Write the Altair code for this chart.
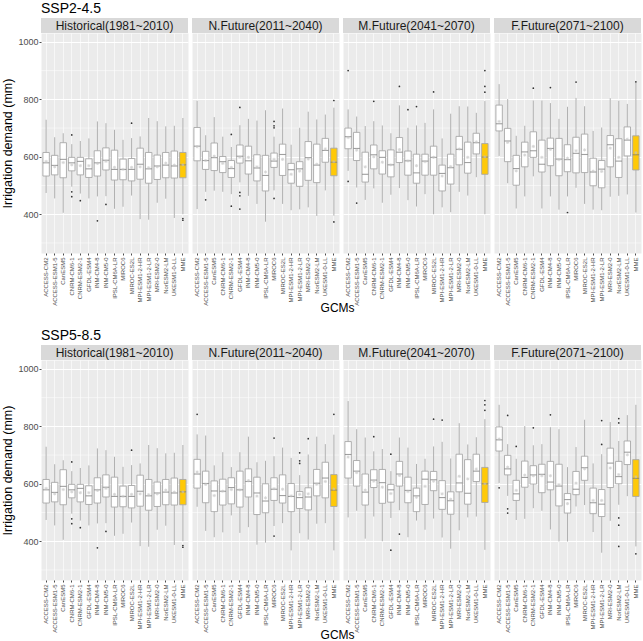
import altair as alt
import pandas as pd

FONT = "Liberation Sans"
GCMS = ["ACCESS-CM2", "ACCESS-ESM1-5", "CanESM5", "CNRM-CM6-1", "CNRM-ESM2-1",
        "GFDL-ESM4", "INM-CM4-8", "INM-CM5-0", "IPSL-CM6A-LR", "MIROC6",
        "MIROC-ES2L", "MPI-ESM1-2-HR", "MPI-ESM1-2-LR", "MRI-ESM2-0",
        "NorESM2-LM", "UKESM1-0-LL", "MME"]
PERIODS = ["Historical(1981~2010)", "N.Future(2011~2040)",
           "M.Future(2041~2070)", "F.Future(2071~2100)"]
SCENARIOS = ["SSP2-4.5", "SSP5-8.5"]
Y_TICKS = [400, 600, 800, 1000]
Y_MINOR = [300, 500, 700, 900]

# ---- Historical (same in both scenarios)
HIST_HI = [729, 668, 682, 644, 655, 664, 723, 717, 694, 659, 665, 671, 735, 724, 706, 708, 735]
HIST_Q3 = [615, 605, 649, 598, 598, 593, 621, 631, 623, 592, 594, 630, 615, 606, 615, 620, 615]
HIST_MED = [579, 570, 591, 579, 584, 558, 579, 588, 556, 556, 556, 574, 558, 568, 571, 568, 572]
HIST_Q1 = [533, 537, 527, 551, 537, 528, 533, 554, 519, 520, 516, 522, 508, 521, 527, 526, 527]
HIST_LO = [474, 455, 405, 496, 472, 455, 462, 463, 419, 426, 465, 383, 381, 440, 454, 387, 400]
HIST_MEAN = [584, 565, 580, 572, 569, 569, 577, 584, 563, 556, 563, 565, 562, 565, 578, 571, 572]
HIST_OUT = {3: [676, 478, 461], 4: [447], 6: [377], 7: [434], 10: [717], 16: [385, 379]}

# ---- SSP2-4.5 near future
S245_NF_HI = [795, 675, 738, 670, 634, 710, 732, 726, 762, 670, 768, 642, 701, 757, 730, 747, 771]
S245_NF_Q3 = [702, 619, 648, 601, 587, 641, 637, 607, 605, 613, 644, 577, 583, 653, 644, 664, 630]
S245_NF_MED = [637, 587, 597, 583, 559, 602, 586, 561, 535, 585, 608, 555, 558, 597, 571, 622, 581]
S245_NF_Q1 = [586, 556, 552, 545, 528, 578, 540, 516, 481, 563, 535, 508, 497, 518, 510, 581, 534]
S245_NF_LO = [418, 478, 482, 478, 470, 511, 464, 436, 374, 483, 436, 414, 417, 424, 394, 483, 395]
S245_NF_MEAN = [635, 587, 602, 577, 563, 598, 598, 565, 547, 591, 591, 539, 550, 592, 574, 627, 583]
S245_NF_OUT = {1: [450], 4: [678, 428], 5: [772, 476, 464, 418], 9: [723, 708, 701, 455], 16: [796, 373]}

# ---- SSP2-4.5 mid future
S245_MF_HI = [765, 740, 707, 724, 709, 682, 779, 701, 709, 718, 765, 664, 750, 776, 775, 753, 794]
S245_MF_Q3 = [700, 685, 616, 641, 621, 624, 667, 620, 609, 609, 637, 571, 609, 671, 651, 682, 646]
S245_MF_MED = [670, 629, 539, 607, 598, 572, 616, 586, 544, 585, 598, 542, 562, 626, 580, 649, 599]
S245_MF_Q1 = [628, 587, 512, 558, 540, 530, 580, 536, 508, 536, 536, 481, 505, 572, 543, 610, 539]
S245_MF_LO = [551, 493, 450, 490, 440, 468, 491, 449, 427, 470, 400, 424, 407, 478, 465, 529, 400]
S245_MF_MEAN = [667, 623, 565, 600, 581, 572, 625, 586, 569, 583, 598, 533, 566, 627, 598, 652, 600]
S245_MF_OUT = {0: [900, 514], 1: [439], 3: [793], 6: [845], 7: [764], 8: [775], 10: [826], 16: [900, 845, 825]}

# ---- SSP2-4.5 far future
S245_FF_HI = [853, 801, 673, 708, 796, 796, 787, 732, 774, 805, 776, 690, 702, 804, 795, 784, 859]
S245_FF_Q3 = [780, 699, 605, 651, 687, 658, 665, 664, 642, 668, 679, 595, 587, 674, 663, 704, 673]
S245_FF_MED = [715, 655, 559, 617, 621, 574, 629, 592, 590, 612, 608, 547, 557, 642, 585, 658, 607]
S245_FF_Q1 = [690, 583, 501, 565, 598, 547, 569, 534, 548, 544, 545, 499, 492, 565, 528, 603, 554]
S245_FF_LO = [603, 508, 420, 462, 532, 420, 462, 416, 462, 492, 436, 416, 414, 461, 464, 469, 406]
S245_FF_MEAN = [723, 650, 551, 606, 636, 598, 626, 590, 595, 621, 624, 550, 549, 630, 598, 661, 614]
S245_FF_OUT = {4: [839], 6: [841], 8: [406], 9: [860], 16: [861]}

# ---- SSP5-8.5 near future
S585_NF_HI = [772, 768, 664, 710, 658, 710, 764, 675, 680, 696, 726, 690, 630, 702, 764, 738, 771]
S585_NF_Q3 = [685, 644, 610, 616, 621, 644, 652, 623, 600, 621, 631, 601, 573, 586, 650, 675, 632]
S585_NF_MED = [634, 601, 575, 574, 587, 579, 608, 568, 540, 581, 559, 556, 552, 554, 602, 620, 578]
S585_NF_Q1 = [585, 534, 503, 526, 530, 519, 554, 493, 499, 542, 533, 503, 514, 509, 558, 551, 521]
S585_NF_LO = [520, 436, 414, 431, 490, 429, 449, 388, 395, 453, 463, 368, 428, 406, 461, 463, 368]
S585_NF_MEAN = [641, 598, 559, 574, 580, 579, 611, 557, 551, 583, 581, 558, 563, 565, 598, 608, 582]
S585_NF_OUT = {0: [842], 9: [759, 418], 12: [708, 680, 671], 13: [757], 16: [842]}

# ---- SSP5-8.5 mid future
S585_MF_HI = [888, 790, 761, 713, 721, 644, 761, 726, 669, 687, 730, 746, 688, 811, 737, 762, 825]
S585_MF_Q3 = [747, 681, 634, 649, 650, 598, 678, 623, 585, 644, 643, 611, 572, 703, 684, 703, 657]
S585_MF_MED = [702, 644, 571, 613, 604, 579, 634, 577, 558, 616, 614, 552, 541, 603, 567, 644, 600]
S585_MF_Q1 = [620, 592, 526, 587, 532, 536, 592, 534, 503, 528, 576, 511, 494, 572, 529, 608, 535]
S585_MF_LO = [483, 506, 409, 486, 400, 481, 508, 414, 472, 440, 479, 413, 374, 438, 483, 486, 370]
S585_MF_MEAN = [693, 639, 578, 609, 588, 566, 629, 573, 553, 591, 609, 565, 546, 626, 617, 651, 600]
S585_MF_OUT = {3: [764], 5: [703, 369], 6: [425], 10: [825], 11: [822], 16: [890, 875, 856]}

# ---- SSP5-8.5 far future
S585_FF_HI = [875, 738, 687, 801, 734, 738, 797, 790, 658, 728, 823, 671, 703, 815, 749, 839, 875]
S585_FF_Q3 = [798, 699, 612, 679, 663, 668, 678, 668, 566, 643, 696, 585, 580, 724, 678, 749, 684]
S585_FF_MED = [753, 652, 565, 622, 631, 633, 606, 592, 545, 581, 656, 534, 529, 672, 625, 710, 619]
S585_FF_Q1 = [714, 631, 542, 588, 599, 569, 579, 523, 498, 562, 612, 496, 486, 587, 600, 667, 556]
S585_FF_LO = [603, 558, 474, 478, 515, 506, 441, 399, 399, 521, 526, 432, 360, 471, 527, 557, 382]
S585_FF_MEAN = [756, 658, 577, 630, 628, 628, 628, 597, 531, 602, 652, 542, 542, 655, 632, 701, 624]
S585_FF_OUT = {0: [586], 1: [838, 513, 498], 2: [730], 4: [795], 6: [840], 12: [820, 737],
               14: [827, 812, 481, 456, 382], 16: [356]}

HIST = (HIST_HI, HIST_Q3, HIST_MED, HIST_Q1, HIST_LO, HIST_MEAN, HIST_OUT)
DATA = {
    "SSP2-4.5": [HIST,
                 (S245_NF_HI, S245_NF_Q3, S245_NF_MED, S245_NF_Q1, S245_NF_LO, S245_NF_MEAN, S245_NF_OUT),
                 (S245_MF_HI, S245_MF_Q3, S245_MF_MED, S245_MF_Q1, S245_MF_LO, S245_MF_MEAN, S245_MF_OUT),
                 (S245_FF_HI, S245_FF_Q3, S245_FF_MED, S245_FF_Q1, S245_FF_LO, S245_FF_MEAN, S245_FF_OUT)],
    "SSP5-8.5": [HIST,
                 (S585_NF_HI, S585_NF_Q3, S585_NF_MED, S585_NF_Q1, S585_NF_LO, S585_NF_MEAN, S585_NF_OUT),
                 (S585_MF_HI, S585_MF_Q3, S585_MF_MED, S585_MF_Q1, S585_MF_LO, S585_MF_MEAN, S585_MF_OUT),
                 (S585_FF_HI, S585_FF_Q3, S585_FF_MED, S585_FF_Q1, S585_FF_LO, S585_FF_MEAN, S585_FF_OUT)],
}

W, H = 147, 220
YDOM = [265, 1031]
BOX_STROKE = "#a8a8a8"
ASTERISK = "M-1,0L1,0M0,-1L0,1M-0.7,-0.7L0.7,0.7M-0.7,0.7L0.7,-0.7"


def panel(scen, pidx):
    hi, q3, med, q1, lo, mean, outs = DATA[scen][pidx]
    first = pidx == 0
    df = pd.DataFrame({"gcm": GCMS, "hi": hi, "q3": q3, "med": med, "q1": q1,
                       "lo": lo, "mean": mean,
                       "kind": ["mme" if g == "MME" else "gcm" for g in GCMS]})
    odf = pd.DataFrame([{"gcm": GCMS[i], "v": v} for i, vs in outs.items() for v in vs])

    xscale = alt.Scale(domain=GCMS, paddingInner=0.25, paddingOuter=0.225)
    xaxis = alt.Axis(title=None, labelAngle=270, labelFontSize=6, labelColor="#4d4d4d",
                     labelFont=FONT, labelPadding=2, tickSize=2, tickColor="#4d4d4d",
                     domain=False, grid=True, gridColor="white", gridWidth=0.6)
    if first:
        yaxis = alt.Axis(values=Y_TICKS, format="d", title="Irrigation demand (mm)",
                         titleFontSize=12.5, titleFont=FONT, titleFontWeight="normal",
                         titleColor="black", titlePadding=3, labelFontSize=9,
                         labelColor="#4d4d4d", labelFont=FONT, labelPadding=1, tickSize=2,
                         tickColor="#4d4d4d", domain=False, grid=True, gridColor="white",
                         gridWidth=1)
    else:
        yaxis = alt.Axis(values=Y_TICKS, title=None, labels=False, ticks=False, domain=False,
                         grid=True, gridColor="white", gridWidth=1)
    yscale = alt.Scale(domain=YDOM, nice=False, zero=False)

    def X():
        return alt.X("gcm:N", sort=GCMS, scale=xscale, axis=xaxis)

    def Y(f):
        return alt.Y(f + ":Q", scale=yscale, axis=yaxis)

    base = alt.Chart(df)
    minor = alt.Chart(pd.DataFrame({"m": Y_MINOR})).mark_rule(
        color="white", strokeWidth=0.5).encode(y=Y("m"))
    whisk = base.mark_rule(color=BOX_STROKE, strokeWidth=0.9).encode(
        x=X(), y=Y("lo"), y2="hi:Q")
    box = base.mark_bar(stroke=BOX_STROKE, strokeWidth=0.9).encode(
        x=X(), y=Y("q1"), y2="q3:Q",
        color=alt.Color("kind:N", scale=alt.Scale(domain=["gcm", "mme"],
                                                  range=["white", "#FFC907"]), legend=None))
    medl = base.mark_tick(color="#777777", thickness=1.1, size=6.4).encode(x=X(), y=Y("med"))
    meanp = base.mark_point(shape=ASTERISK, color="#c4c4c4", size=10, strokeWidth=0.9,
                            filled=False).encode(x=X(), y=Y("mean"))
    outl = alt.Chart(odf).mark_circle(color="#333333", size=3, opacity=1).encode(
        x=X(), y=Y("v"))
    strip_df = pd.DataFrame({"label": [PERIODS[pidx]]})
    strip = alt.Chart(strip_df).mark_rect(fill="#d9d9d9").encode(
        x=alt.value(0), x2=alt.value(W), y=alt.value(-15), y2=alt.value(0))
    strip_t = alt.Chart(strip_df).mark_text(fontSize=12, font=FONT, color="#1a1a1a",
                                            baseline="middle").encode(
        x=alt.value(W / 2), y=alt.value(-7.5), text="label:N")
    layers = [minor, whisk, box, medl, meanp, outl, strip, strip_t]
    if first:
        tt = alt.Chart(pd.DataFrame({"t": [scen]})).mark_text(
            fontSize=14, font=FONT, color="black", align="left", baseline="middle").encode(
            x=alt.value(0), y=alt.value(-24), text="t:N")
        layers.append(tt)
    return alt.layer(*layers).properties(width=W, height=H)


rows = [
    alt.hconcat(*[panel(s, p) for p in range(4)], spacing=2).properties(
        title=alt.TitleParams("GCMs", orient="bottom", anchor="middle", fontSize=12,
                              font=FONT, fontWeight="normal", color="black",
                              offset=-3, dx=16))
    for s in SCENARIOS
]
chart = alt.vconcat(*rows, spacing=14).properties(
    padding={"left": 1, "top": 1, "right": 0, "bottom": 0}
).configure_view(fill="#ebebeb", stroke="transparent")

chart.save("out.html", embed_options={"renderer": "svg", "actions": False})
